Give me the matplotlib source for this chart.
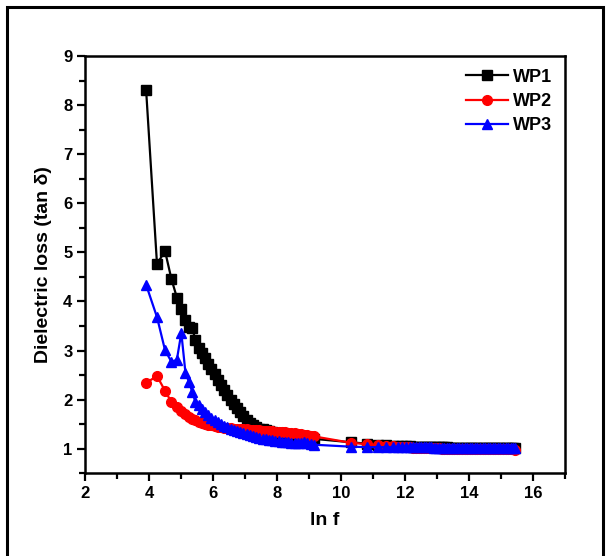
import matplotlib
matplotlib.use('Agg')
import matplotlib.pyplot as plt
from matplotlib.patches import Rectangle
from matplotlib.ticker import MultipleLocator

plt.rcParams['font.family'] = ['Liberation Sans', 'DejaVu Sans']
plt.rcParams['font.weight'] = 'bold'

# ln f values (shared by all three samples)
ln_f = [3.91, 4.25, 4.50, 4.70, 4.87, 5.01, 5.14, 5.25, 5.35, 5.45,
        5.55, 5.65, 5.75, 5.85, 5.95, 6.05, 6.15, 6.25, 6.35, 6.45,
        6.55, 6.65, 6.75, 6.85, 6.95, 7.05, 7.15, 7.25, 7.35, 7.45,
        7.55, 7.65, 7.75, 7.85, 7.95, 8.05, 8.15, 8.25, 8.35, 8.45,
        8.55, 8.65, 8.75, 8.85, 8.95, 9.05, 9.15,
        10.30, 10.82, 11.16, 11.41, 11.61, 11.77, 11.91, 12.03, 12.14, 12.24,
        12.33, 12.42, 12.50, 12.58, 12.66, 12.74, 12.82, 12.90, 12.98, 13.06,
        13.14, 13.22, 13.30, 13.38, 13.46, 13.54, 13.62, 13.70, 13.78, 13.86,
        13.94, 14.02, 14.10, 14.18, 14.26, 14.34, 14.42, 14.50, 14.58, 14.66,
        14.74, 14.82, 14.90, 14.98, 15.06, 15.14, 15.22, 15.30, 15.38, 15.42]

wp1 = [8.31, 4.76, 5.03, 4.46, 4.08, 3.85, 3.62, 3.47, 3.45, 3.22,
       3.05, 2.95, 2.85, 2.72, 2.62, 2.52, 2.40, 2.30, 2.20, 2.10,
       2.00, 1.90, 1.82, 1.75, 1.66, 1.58, 1.52, 1.48, 1.44, 1.41,
       1.39, 1.37, 1.35, 1.33, 1.32, 1.31, 1.30, 1.29, 1.28, 1.27,
       1.26, 1.25, 1.24, 1.23, 1.22, 1.21, 1.20,
       1.13, 1.10, 1.08, 1.07, 1.06, 1.06, 1.05, 1.05, 1.05, 1.04,
       1.04, 1.04, 1.04, 1.04, 1.03, 1.03, 1.03, 1.03, 1.03, 1.03,
       1.03, 1.03, 1.03, 1.02, 1.02, 1.02, 1.02, 1.02, 1.02, 1.02,
       1.02, 1.02, 1.02, 1.02, 1.02, 1.02, 1.02, 1.02, 1.02, 1.02,
       1.02, 1.02, 1.02, 1.02, 1.02, 1.02, 1.02, 1.02, 1.02, 1.02]

wp2 = [2.34, 2.48, 2.18, 1.95, 1.85, 1.76, 1.70, 1.65, 1.61, 1.58,
       1.55, 1.53, 1.51, 1.49, 1.48, 1.46, 1.45, 1.44, 1.43, 1.42,
       1.42, 1.41, 1.40, 1.40, 1.39, 1.39, 1.38, 1.38, 1.37, 1.37,
       1.36, 1.36, 1.35, 1.35, 1.34, 1.34, 1.33, 1.33, 1.32, 1.32,
       1.31, 1.30, 1.29, 1.28, 1.27, 1.26, 1.25,
       1.12, 1.09, 1.07, 1.06, 1.05, 1.04, 1.04, 1.03, 1.03, 1.02,
       1.02, 1.02, 1.02, 1.01, 1.01, 1.01, 1.01, 1.01, 1.01, 1.01,
       1.00, 1.00, 1.00, 1.00, 1.00, 1.00, 1.00, 1.00, 1.00, 1.00,
       1.00, 1.00, 1.00, 0.99, 0.99, 0.99, 0.99, 0.99, 0.99, 0.99,
       0.99, 0.99, 0.99, 0.99, 0.99, 0.99, 0.99, 0.99, 0.99, 0.98]

wp3 = [4.34, 3.68, 3.01, 2.77, 2.81, 3.36, 2.54, 2.36, 2.16, 1.95,
       1.88, 1.80, 1.74, 1.68, 1.63, 1.58, 1.54, 1.50, 1.47, 1.44,
       1.41, 1.38, 1.35, 1.33, 1.31, 1.29, 1.27, 1.25, 1.23, 1.22,
       1.20, 1.19, 1.18, 1.17, 1.16, 1.15, 1.14, 1.13, 1.13, 1.12,
       1.12, 1.11, 1.12, 1.13, 1.11, 1.09, 1.08,
       1.04, 1.03, 1.03, 1.03, 1.03, 1.03, 1.03, 1.03, 1.03, 1.03,
       1.03, 1.03, 1.03, 1.03, 1.03, 1.03, 1.03, 1.02, 1.02, 1.02,
       1.02, 1.02, 1.02, 1.02, 1.02, 1.02, 1.02, 1.02, 1.02, 1.02,
       1.02, 1.02, 1.02, 1.02, 1.02, 1.02, 1.02, 1.02, 1.02, 1.02,
       1.02, 1.02, 1.02, 1.02, 1.02, 1.02, 1.02, 1.02, 1.02, 1.02]

fig = plt.figure(figsize=(6.07, 5.56), dpi=100)
ax = fig.add_axes([0.140, 0.149, 0.791, 0.750])

ax.plot(ln_f, wp1, color='black', marker='s', ms=6.5, lw=1.6, label='WP1')
ax.plot(ln_f, wp2, color='red', marker='o', ms=7, lw=1.6, label='WP2')
ax.plot(ln_f, wp3, color='blue', marker='^', ms=7.5, lw=1.6, label='WP3')

ax.set_xlim(2, 17)
ax.set_ylim(0.5, 9)
ax.xaxis.set_major_locator(MultipleLocator(2))
ax.xaxis.set_minor_locator(MultipleLocator(1))
ax.yaxis.set_major_locator(MultipleLocator(1))
ax.yaxis.set_minor_locator(MultipleLocator(0.5))
ax.tick_params(which='major', direction='out', length=6, width=1.6, labelsize=12, pad=3)
ax.tick_params(which='minor', direction='out', length=4, width=1.6)
for s in ax.spines.values():
    s.set_linewidth(1.8)

ax.set_xlabel('ln f', fontsize=14, fontweight='bold', labelpad=8)
ax.set_ylabel('Dielectric loss (tan δ)', fontsize=14, fontweight='bold', labelpad=8)

leg = ax.legend(loc='upper right', frameon=False, fontsize=13, handlelength=2.3,
                handletextpad=0.3, labelspacing=0.4, borderaxespad=0.3)
for t in leg.get_texts():
    t.set_fontweight('bold')

# outer border round the figure
fig.patches.append(Rectangle((0.011, -0.1), 0.982, 1.087, transform=fig.transFigure,
                             fill=False, edgecolor='black', lw=2.2))

fig.savefig('out.png', dpi=100)
